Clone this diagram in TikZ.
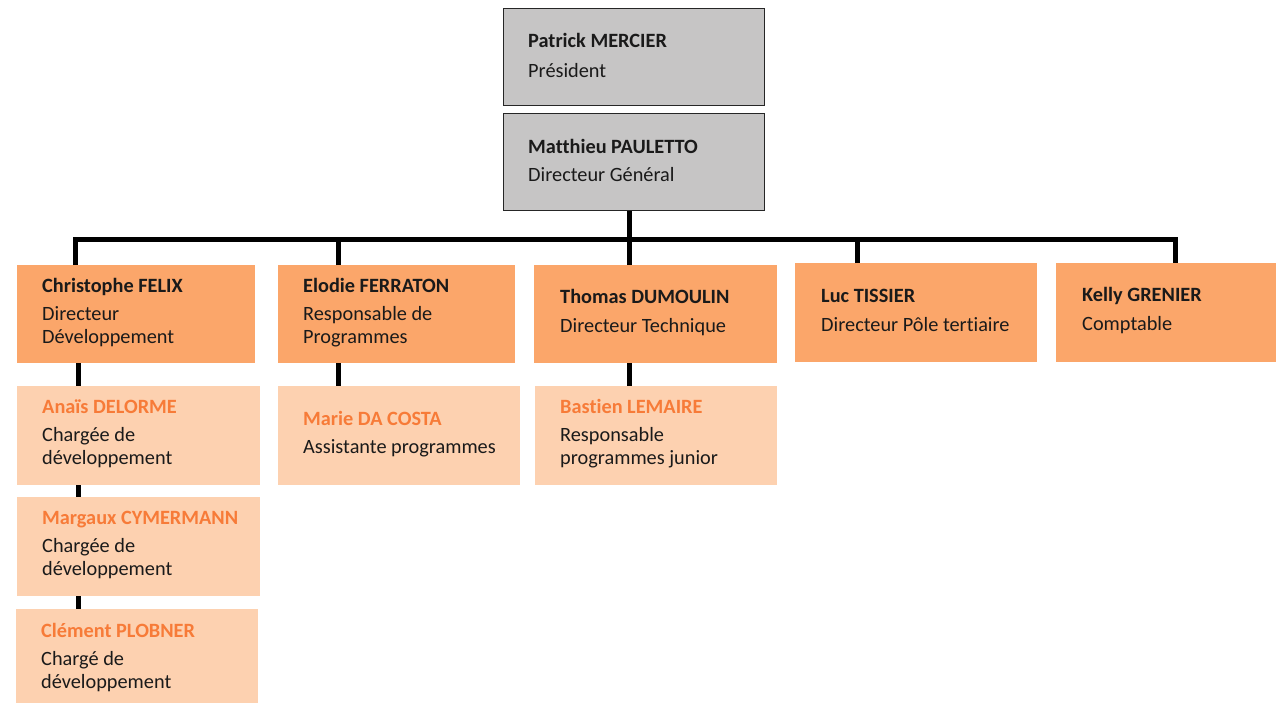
\documentclass[tikz,border=0pt]{standalone}
\usepackage{fontspec}
\setmainfont{Carlito}[Ligatures={NoCommon}]
\usetikzlibrary{calc}
\definecolor{grayfill}{HTML}{C6C5C5}
\definecolor{orangeA}{HTML}{FBA66A}
\definecolor{orangeB}{HTML}{FDD1B0}
\definecolor{nameorange}{HTML}{F77B38}
\definecolor{textdark}{HTML}{1A1A1A}
\begin{document}
\begin{tikzpicture}[x=1pt,y=-1pt,
  topbox/.style={draw=black!85,line width=1.3pt,fill=grayfill,anchor=north west,inner sep=0pt,minimum width=261pt,minimum height=97pt},
  lvltwo/.style={fill=orangeA,anchor=north west,inner sep=0pt,minimum height=98pt},
  lvlthree/.style={fill=orangeB,anchor=north west,inner sep=0pt,minimum height=98pt},
  txt/.style={anchor=west,align=left,inner sep=0pt,text=textdark,font=\fontsize{20.3}{23}\selectfont},
  conn/.style={draw=black,line width=5pt}]
\useasboundingbox (0,0) rectangle (1276,702);
\fill[white] (0,0) rectangle (1276,702);
% top boxes
\node[topbox] (pres) at (503,8) {};
\node[topbox] (dg) at (503,113) {};
% level 2
\node[lvltwo,minimum width=238pt] (chris) at (17,265) {};
\node[lvltwo,minimum width=237pt] (elodie) at (278,265) {};
\node[lvltwo,minimum width=243pt] (thomas) at (534,265) {};
\node[lvltwo,minimum width=242pt,minimum height=99pt] (luc) at (795,263) {};
\node[lvltwo,minimum width=222pt,minimum height=99pt] (kelly) at (1056,263) {};
% level 3
\node[lvlthree,minimum width=243pt,minimum height=99pt] (anais) at (17,386) {};
\node[lvlthree,minimum width=243pt,minimum height=99pt] (margaux) at (17,497) {};
\node[lvlthree,minimum width=242pt,minimum height=95pt] (clement) at (16,609) {};
\node[lvlthree,minimum width=242pt,minimum height=99pt] (marie) at (278,386) {};
\node[lvlthree,minimum width=242pt,minimum height=99pt] (bastien) at (535,386) {};
% connectors
\coordinate (bus) at (629,239);
\coordinate (d1) at (75,265);
\coordinate (d2) at (338,265);
\coordinate (d3) at (629,265);
\coordinate (d4) at (857,263);
\coordinate (d5) at (1175,263);
\draw[conn] (d1) |- (bus) -| (d5);
\draw[conn] (dg.south -| d3) -- (d3);
\draw[conn] (d2) -- (d2 |- bus);
\draw[conn] (d4) -- (d4 |- bus);
\coordinate (v1) at (78,0);
\draw[conn] (chris.south -| v1) -- (anais.north -| v1);
\draw[conn] (anais.south -| v1) -- (margaux.north -| v1);
\draw[conn] (margaux.south -| v1) -- (clement.north -| v1);
\draw[conn] (elodie.south -| d2) -- (marie.north -| d2);
\draw[conn] (thomas.south -| d3) -- (bastien.north -| d3);
% texts
\node[txt] (tpres) at ($(pres.west)+(25,-2)$) {\textbf{Patrick MERCIER}\\[7pt]Président};
\node[txt] (tdg) at ($(dg.west)+(25,-2)$) {\textbf{Matthieu PAULETTO}\\[5pt]Directeur Général};
\node[txt] (tchris) at ($(chris.west)+(25,-2)$) {\textbf{Christophe FELIX}\\[5pt]Directeur\\Développement};
\node[txt] (telodie) at ($(elodie.west)+(25,-2)$) {\textbf{Elodie FERRATON}\\[5pt]Responsable de\\Programmes};
\node[txt] (tthomas) at ($(thomas.west)+(26,-2)$) {\textbf{Thomas DUMOULIN}\\[6pt]Directeur Technique};
\node[txt] (tluc) at ($(luc.west)+(26,-2)$) {\textbf{Luc TISSIER}\\[6pt]Directeur Pôle tertiaire};
\node[txt] (tkelly) at ($(kelly.west)+(26,-2)$) {\textbf{Kelly GRENIER}\\[6pt]Comptable};
\node[txt] (tanais) at ($(anais.west)+(25,-2)$) {\textcolor{nameorange}{\textbf{Anaïs DELORME}}\\[5pt]Chargée de\\développement};
\node[txt] (tmargaux) at ($(margaux.west)+(25,-2)$) {\textcolor{nameorange}{\textbf{Margaux CYMERMANN}}\\[5pt]Chargée de\\développement};
\node[txt] (tclement) at ($(clement.west)+(25,1)$) {\textcolor{nameorange}{\textbf{Clément PLOBNER}}\\[5pt]Chargé de\\développement};
\node[txt] (tmarie) at ($(marie.west)+(25,-2)$) {\textcolor{nameorange}{\textbf{Marie DA COSTA}}\\[5pt]Assistante programmes};
\node[txt] (tbastien) at ($(bastien.west)+(25,-2)$) {\textcolor{nameorange}{\textbf{Bastien LEMAIRE}}\\[5pt]Responsable\\programmes junior};
\end{tikzpicture}
\end{document}
